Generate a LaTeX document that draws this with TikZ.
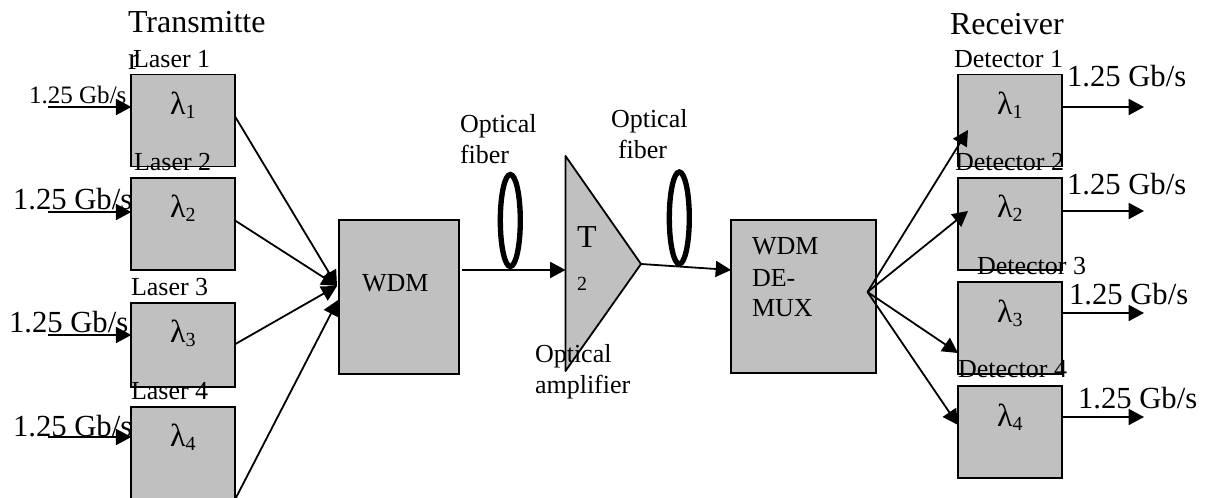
\documentclass[tikz,border=0pt]{standalone}
\usepackage{fontspec}
\setmainfont{Liberation Serif}
\usetikzlibrary{arrows.meta,shapes.geometric}
\newcommand{\fsz}[1]{\fontsize{#1}{#1}\selectfont}
\newcommand{\lamsub}[1]{{\fsz{24}λ\raisebox{-2.6pt}{\fsz{15}#1}}}
\tikzset{
  blockbox/.style={draw=black,fill=boxgray,line width=1.35pt,inner sep=0pt,outer sep=0pt},
  lbl/.style={anchor=base west,inner sep=0pt,outer sep=0pt,text=black},
  bigtxt/.style={lbl,font=\fsz{24}},
  midtxt/.style={lbl,font=\fsz{19.5}},
  smalltxt/.style={lbl,font=\fsz{18.8}},
  ratetxt/.style={lbl,font=\fsz{23}},
  lamtxt/.style={lbl},
  link/.style={draw=black,line width=1.35pt},
  arrowlink/.style={link,-{Triangle[length=11.5pt,width=12pt]}},
  fiberloop/.style={draw=black,ellipse,line width=4pt,inner sep=0pt,outer sep=0pt,minimum width=15pt,minimum height=69pt}
}
\definecolor{boxgray}{HTML}{C0C0C0}
\begin{document}
\begin{tikzpicture}[x=0.75pt,y=-0.75pt]
\useasboundingbox (0,0) rectangle (1213,498);
\clip (0,0) rectangle (1213,498);
% lasers
\node[blockbox,minimum width=78pt,minimum height=69pt] (l1) at (183.3,120.5) {};
\node[blockbox,minimum width=78pt,minimum height=69pt] (l2) at (183.3,224.3) {};
\node[blockbox,minimum width=78pt,minimum height=63.5pt] (l3) at (183.3,345) {};
\node[blockbox,minimum width=78pt,minimum height=69pt] (l4) at (183.3,453) {};
% WDM blocks
\node[blockbox,minimum width=90pt,minimum height=115.5pt] (wdm) at (399,297) {};
\node[blockbox,minimum width=108.5pt,minimum height=115pt] (demux) at (803.5,296.5) {};
% detectors
\node[blockbox,minimum width=78pt,minimum height=69pt] (d1) at (1010,120.5) {};
\node[blockbox,minimum width=78pt,minimum height=69pt] (d2) at (1010,224.3) {};
\node[blockbox,minimum width=78pt,minimum height=69pt] (d3) at (1010,328) {};
\node[blockbox,minimum width=78pt,minimum height=69pt] (d4) at (1010,432) {};
% amplifier
\coordinate (amptop) at (565.5,156);
\coordinate (amptip) at (641,264);
\coordinate (ampbot) at (565.5,371);
\draw[blockbox,line join=round] (amptop) -- (amptip) -- (ampbot) -- cycle;
% free ends
\coordinate (in1) at (48,107);
\coordinate (in2) at (48,212);
\coordinate (in3) at (48,335);
\coordinate (in4) at (48,437);
\coordinate (out1) at (1144,107);
\coordinate (out2) at (1144,211);
\coordinate (out3) at (1144,313);
\coordinate (out4) at (1144,417);
\coordinate (wdmin) at (337,286);
\coordinate (wdmin2) at (338,300);
\coordinate (wdmout) at (462,270);
\coordinate (demuxin) at (731,270);
\coordinate (fan) at (867.5,292);
\coordinate (dt1) at (968,130);
\coordinate (dt2) at (968,211);
\coordinate (dt3) at (958,353);
\coordinate (dt4) at (958,425);
% connectors
\draw[arrowlink] (in1) -- (in1 -| l1.west);
\draw[arrowlink] (in2) -- (in2 -| l2.west);
\draw[arrowlink] (in3) -- (in3 -| l3.west);
\draw[arrowlink] (in4) -- (in4 -| l4.west);
\draw[arrowlink] (l1.4) -- (wdmin);
\draw[arrowlink] (l2.4) -- (wdmin);
\draw[arrowlink] (l3.1) -- (wdmin);
\draw[arrowlink] (l4.south east) -- (wdmin2);
\draw[arrowlink] (wdmout) -- (wdmout -| amptop);
\draw[arrowlink] (amptip) -- (demuxin);
\draw[arrowlink] (fan) -- (dt1);
\draw[arrowlink] (fan) -- (dt2);
\draw[arrowlink] (fan) -- (dt3);
\draw[arrowlink] (fan) -- (dt4);
\draw[arrowlink] (d1.east |- out1) -- (out1);
\draw[arrowlink] (d2.east |- out2) -- (out2);
\draw[arrowlink] (d3.east |- out3) -- (out3);
\draw[arrowlink] (d4.east |- out4) -- (out4);
% fibre loops
\node[fiberloop] (loop1) at (510.3,220.5) {};
\node[fiberloop] (loop2) at (679.3,218) {};
% headings
\node[bigtxt] (txmit) at (128,33) {Transmitte};
\node[bigtxt] (txmitr) at (128,70) {r};
\node[bigtxt] (rcv) at (950,35) {Receiver};
% laser labels
\node[midtxt] (ll1) at (133,68) {Laser 1};
\node[midtxt] (ll2) at (134,171) {Laser 2};
\node[midtxt] (ll3) at (131,296) {Laser 3};
\node[midtxt] (ll4) at (131,400) {Laser 4};
% lambdas
\node[lamtxt] (ld1) at (170,115) {\lamsub{1}};
\node[lamtxt] (ld2) at (170,218) {\lamsub{2}};
\node[lamtxt] (ld3) at (170,343) {\lamsub{3}};
\node[lamtxt] (ld4) at (170,447) {\lamsub{4}};
\node[lamtxt] (rd1) at (997,115) {\lamsub{1}};
\node[lamtxt] (rd2) at (997,218) {\lamsub{2}};
\node[lamtxt] (rd3) at (997,323) {\lamsub{3}};
\node[lamtxt] (rd4) at (997,427) {\lamsub{4}};
% input rates
\node[smalltxt] (r1) at (29,104) {1.25 Gb/s};
\node[ratetxt] (r2) at (13,210) {1.25 Gb/s};
\node[ratetxt] (r3) at (9,333) {1.25 Gb/s};
\node[ratetxt] (r4) at (13,437) {1.25 Gb/s};
% output rates
\node[ratetxt] (s1) at (1067,87) {1.25 Gb/s};
\node[ratetxt] (s2) at (1067,195) {1.25 Gb/s};
\node[ratetxt] (s3) at (1069,305) {1.25 Gb/s};
\node[ratetxt] (s4) at (1078,409) {1.25 Gb/s};
% detector labels
\node[midtxt] (dl1) at (954,68) {Detector 1};
\node[midtxt] (dl2) at (955,171) {Detector 2};
\node[midtxt] (dl3) at (977,275) {Detector 3};
\node[midtxt] (dl4) at (958,378) {Detector 4};
% centre labels
\node[midtxt] (wdmlab) at (362,292) {WDM};
\node[midtxt] (dm1) at (752,255) {WDM};
\node[midtxt] (dm2) at (752,287) {DE-};
\node[midtxt] (dm3) at (752,317) {MUX};
\node[midtxt] (of1a) at (460,133) {Optical};
\node[midtxt] (of1b) at (460,164) {fiber};
\node[midtxt] (of2a) at (611,128) {Optical};
\node[midtxt] (of2b) at (618,159) {fiber};
\node[midtxt] (oa1) at (535,363) {Optical};
\node[midtxt] (oa2) at (535,394) {amplifier};
\node[bigtxt] (tt) at (577,248) {T};
\node[lbl,font=\fsz{15}] (tsub) at (577,291) {2};
\end{tikzpicture}
\end{document}
